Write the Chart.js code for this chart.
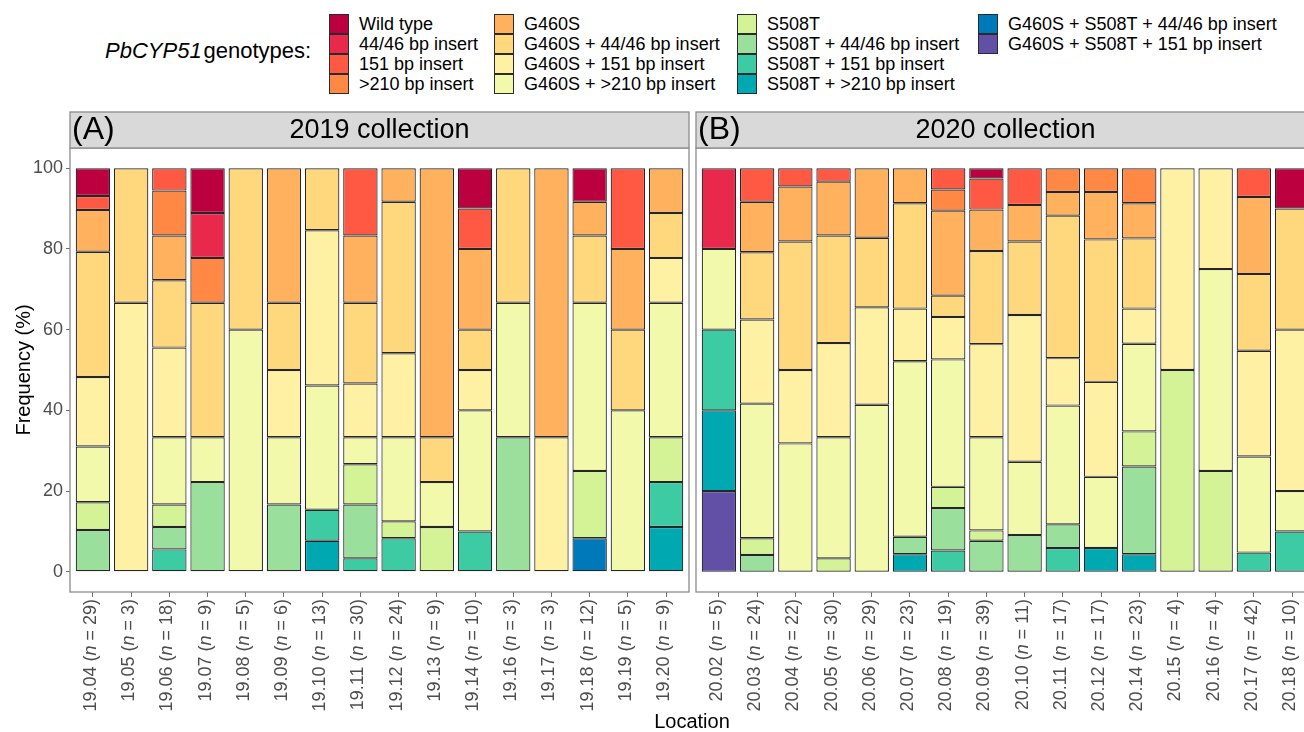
<!DOCTYPE html>
<html>
<head>
<meta charset="utf-8">
<script src="https://cdn.jsdelivr.net/npm/chart.js@4/dist/chart.umd.min.js"></script>
<style>
  html, body { margin: 0; padding: 0; background: #fff; }
  body { position: relative; width: 1304px; height: 732px; overflow: hidden; font-family: "Liberation Sans", Arial, sans-serif; color: #000; }
  #cA { position: absolute; left: 0; top: 0; }
  #cB { position: absolute; left: 690px; top: 0; }
  .lgTitle { position: absolute; left: 105px; top: 39px; font-size: 22px; line-height: 24px; white-space: nowrap; }
  .lgKey { position: absolute; width: 20px; height: 20px; box-sizing: border-box; border: 1px solid #2b2b2b; }
  .lgText { position: absolute; font-size: 18px; line-height: 20px; white-space: nowrap; }
  #xTitle { position: absolute; left: 592px; width: 200px; top: 709px; text-align: center; font-size: 20px; line-height: 24px; }
</style>
</head>
<body>
<div id="legend"></div>
<canvas id="cA" width="690" height="732"></canvas>
<canvas id="cB" width="630" height="732"></canvas>
<div id="xTitle">Location</div>
<script>
// ---------- DATA ----------
const genotypes = [
  'Wild type', '44/46 bp insert', '151 bp insert', '>210 bp insert',
  'G460S', 'G460S + 44/46 bp insert', 'G460S + 151 bp insert', 'G460S + >210 bp insert',
  'S508T', 'S508T + 44/46 bp insert', 'S508T + 151 bp insert', 'S508T + >210 bp insert',
  'G460S + S508T + 44/46 bp insert', 'G460S + S508T + 151 bp insert'
];
const genoColors = [
  '#BC003F', '#E8294B', '#FF5944', '#FF8845',
  '#FFB15D', '#FFD87D', '#FFF1A3', '#F2F9AB',
  '#D4F296', '#9ADF9C', '#3DCBA3', '#00A8B2',
  '#0079BA', '#6250A6'
];

const locs2019 = ['19.04','19.05','19.06','19.07','19.08','19.09','19.10','19.11','19.12','19.13','19.14','19.16','19.17','19.18','19.19','19.20'];
const n2019    = [29, 3, 18, 9, 5, 6, 13, 30, 24, 9, 10, 3, 3, 12, 5, 9];
const locs2020 = ['20.02','20.03','20.04','20.05','20.06','20.07','20.08','20.09','20.10','20.11','20.12','20.14','20.15','20.16','20.17','20.18'];
const n2020    = [5, 24, 22, 30, 29, 23, 19, 39, 11, 17, 17, 23, 4, 4, 42, 10];

// isolate counts per genotype (2019 collection)
const wt_19      = [2,0,0,1,0,0,0,0,0,0,1,0,0,1,0,0];
const ins44_19   = [0,0,0,1,0,0,0,0,0,0,0,0,0,0,0,0];
const ins151_19  = [1,0,1,0,0,0,0,5,0,0,1,0,0,0,1,0];
const ins210_19  = [0,0,2,1,0,0,0,0,0,0,0,0,0,0,0,0];
const g_19       = [3,0,2,0,0,2,0,5,2,6,2,0,2,1,1,1];
const g44_19     = [9,1,3,3,2,1,2,6,9,1,1,1,0,2,1,1];
const g151_19    = [5,2,4,0,0,1,5,4,5,0,1,0,1,0,0,1];
const g210_19    = [4,0,3,1,3,1,4,2,5,1,3,1,0,5,2,3];
const s_19       = [2,0,1,0,0,0,0,3,1,1,0,0,0,2,0,1];
const s44_19     = [3,0,1,2,0,1,0,4,0,0,0,1,0,0,0,0];
const s151_19    = [0,0,1,0,0,0,1,1,2,0,1,0,0,0,0,1];
const s210_19    = [0,0,0,0,0,0,1,0,0,0,0,0,0,0,0,1];
const gs44_19    = [0,0,0,0,0,0,0,0,0,0,0,0,0,1,0,0];
const gs151_19   = [0,0,0,0,0,0,0,0,0,0,0,0,0,0,0,0];

// isolate counts per genotype (2020 collection)
const wt_20      = [0,0,0,0,0,0,0,1,0,0,0,0,0,0,0,1];
const ins44_20   = [1,0,0,0,0,0,0,0,0,0,0,0,0,0,0,0];
const ins151_20  = [0,2,1,1,0,0,1,3,1,0,0,0,0,0,3,0];
const ins210_20  = [0,0,0,0,0,0,1,0,0,1,1,2,0,0,0,0];
const g_20       = [0,3,3,4,5,2,4,4,1,1,2,2,0,0,8,0];
const g44_20     = [0,4,7,8,5,6,1,9,2,6,6,4,0,0,8,3];
const g151_20    = [0,5,4,7,7,3,2,9,4,2,4,2,2,1,11,4];
const g210_20    = [1,8,7,9,12,10,6,9,2,5,3,5,0,2,10,1];
const s_20       = [0,1,0,1,0,0,1,1,0,0,0,2,2,1,0,0];
const s44_20     = [0,1,0,0,0,1,2,3,1,1,0,5,0,0,0,0];
const s151_20    = [1,0,0,0,0,0,1,0,0,1,0,0,0,0,2,1];
const s210_20    = [1,0,0,0,0,1,0,0,0,0,1,1,0,0,0,0];
const gs44_20    = [0,0,0,0,0,0,0,0,0,0,0,0,0,0,0,0];
const gs151_20   = [1,0,0,0,0,0,0,0,0,0,0,0,0,0,0,0];

const yTickValues = [0, 20, 40, 60, 80, 100];

const rows2019 = [wt_19, ins44_19, ins151_19, ins210_19, g_19, g44_19, g151_19, g210_19, s_19, s44_19, s151_19, s210_19, gs44_19, gs151_19];
const rows2020 = [wt_20, ins44_20, ins151_20, ins210_20, g_20, g44_20, g151_20, g210_20, s_20, s44_20, s151_20, s210_20, gs44_20, gs151_20];

// ---------- LEGEND (HTML) ----------
(function buildLegend() {
  const lg = document.getElementById('legend');
  const t = document.createElement('div');
  t.className = 'lgTitle';
  t.innerHTML = '<i>PbCYP51</i>&#8202;genotypes:';
  lg.appendChild(t);
  const colX = [329, 494, 737, 978];
  genotypes.forEach((g, i) => {
    const col = Math.floor(i / 4), row = i % 4;
    const k = document.createElement('div');
    k.className = 'lgKey';
    k.style.left = colX[col] + 'px';
    k.style.top = (14 + row * 20) + 'px';
    k.style.background = genoColors[i];
    lg.appendChild(k);
    const tx = document.createElement('div');
    tx.className = 'lgText';
    tx.style.left = (colX[col] + 30) + 'px';
    tx.style.top = (14 + row * 20) + 'px';
    tx.textContent = g;
    lg.appendChild(tx);
  });
})();

// ---------- CHARTS ----------
const FONT = '"Liberation Sans", Arial, sans-serif';

function makeDatasets(rows, ns) {
  const ds = genotypes.map((g, gi) => ({
    label: g,
    data: rows[gi].map((c, i) => c > 0 ? { x: i + 1, y: c / ns[i] * 100 } : null).filter(p => p),
    backgroundColor: genoColors[gi],
    borderColor: '#262626',
    borderWidth: 1.2,
    borderSkipped: false,
    barPercentage: 0.9,
    categoryPercentage: 1.0
  }));
  return ds.reverse(); // first dataset is drawn at the bottom of the stack
}

const panelDeco = {
  id: 'panelDeco',
  afterDraw(chart, args, opts) {
    const ctx = chart.ctx;
    const ca = chart.chartArea;
    ctx.save();
    // panel border
    ctx.strokeStyle = '#8C8C8C';
    ctx.lineWidth = 1.3;
    ctx.strokeRect(ca.left, ca.top, ca.right - ca.left, ca.bottom - ca.top);
    // strip
    const sTop = 112;
    ctx.fillStyle = '#D9D9D9';
    ctx.fillRect(ca.left, sTop, ca.right - ca.left, ca.top - sTop);
    ctx.strokeRect(ca.left, sTop, ca.right - ca.left, ca.top - sTop);
    ctx.fillStyle = '#000';
    ctx.textBaseline = 'middle';
    ctx.textAlign = 'left';
    ctx.font = '32px ' + FONT;
    ctx.fillText(opts.tag, ca.left + 2, 130);
    ctx.textAlign = 'center';
    ctx.font = '27px ' + FONT;
    ctx.fillText(opts.title, (ca.left + ca.right) / 2, 131);
    // x tick labels (rotated, italic n)
    const xs = chart.scales.x;
    ctx.fillStyle = '#4D4D4D';
    ctx.textAlign = 'left';
    ctx.textBaseline = 'middle';
    opts.locs.forEach((loc, i) => {
      const x = xs.getPixelForValue(i + 1);
      const parts = [[loc + ' (', ''], ['n', 'italic '], [' = ' + opts.ns[i] + ')', '']];
      let total = 0;
      const widths = parts.map(p => { ctx.font = p[1] + '18px ' + FONT; const w = ctx.measureText(p[0]).width; total += w; return w; });
      ctx.save();
      ctx.translate(x - 2, 599);
      ctx.rotate(-Math.PI / 2);
      let cur = -total;
      parts.forEach((p, j) => {
        ctx.font = p[1] + '18px ' + FONT;
        ctx.fillText(p[0], cur, 0);
        cur += widths[j];
      });
      ctx.restore();
    });
    ctx.restore();
  }
};

function makeChart(canvasId, rows, locs, ns, tag, title, showY, padLeft, padRight) {
  return new Chart(document.getElementById(canvasId), {
    type: 'bar',
    data: { datasets: makeDatasets(rows, ns) },
    options: {
      responsive: false,
      animation: false,
      layout: { padding: { top: 148, left: padLeft, right: padRight, bottom: 0 } },
      plugins: {
        legend: { display: false },
        tooltip: { enabled: false },
        panelDeco: { tag, title, locs, ns }
      },
      scales: {
        x: {
          type: 'linear',
          stacked: true,
          offset: false,
          min: 0.4,
          max: locs.length + 0.6,
          afterBuildTicks: (s) => { s.ticks = locs.map((_, i) => ({ value: i + 1 })); },
          afterFit: (s) => { s.height = 140; },
          grid: { display: true, offset: false, drawOnChartArea: false, drawTicks: true, tickLength: 5, color: '#6E6E6E', lineWidth: 1 },
          border: { display: false },
          ticks: { autoSkip: false, maxRotation: 0, callback: () => '' }
        },
        y: {
          display: showY,
          stacked: true,
          min: -5,
          max: 105,
          afterBuildTicks: (s) => { s.ticks = yTickValues.map(v => ({ value: v })); },
          afterFit: (s) => { s.width = showY ? 70 : 0; },
          grid: { display: true, drawOnChartArea: false, drawTicks: true, tickLength: 4, color: '#6E6E6E', lineWidth: 1 },
          border: { display: false },
          ticks: { color: '#4D4D4D', font: { size: 18, family: FONT }, padding: 3 },
          title: { display: true, text: 'Frequency (%)', color: '#000', font: { size: 20, family: FONT }, padding: { top: 12, bottom: 0 } }
        }
      }
    },
    plugins: [panelDeco]
  });
}

makeChart('cA', rows2019, locs2019, n2019, '(A)', '2019 collection', true, 0, 1);
makeChart('cB', rows2020, locs2020, n2020, '(B)', '2020 collection', false, 6, 5);
</script>
</body>
</html>
